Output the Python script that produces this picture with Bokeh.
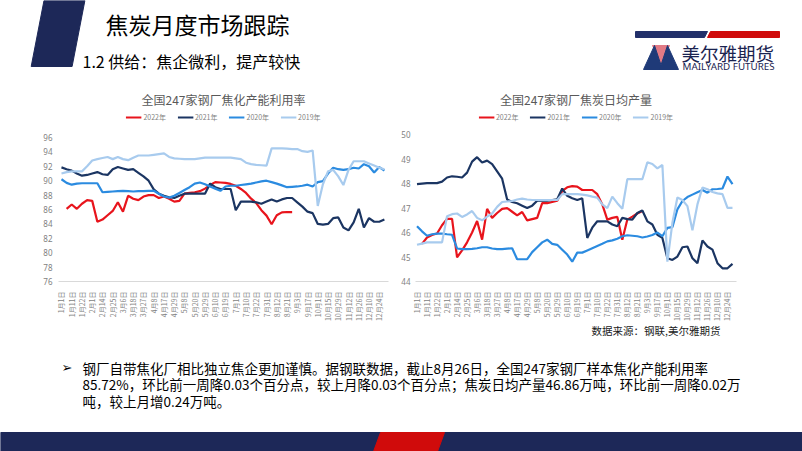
import math
from bokeh.plotting import figure
from bokeh.models import Range1d, FixedTicker, Legend, LegendItem
from bokeh.layouts import column, row
from bokeh.embed import file_html
from bokeh.resources import INLINE
from bokeh.core.properties import value

NAN = float("nan")
CJK = "Noto Sans CJK SC"

# ---------------- data ----------------
x_labels = ["1月1日", "1月11日", "1月22日", "2月1日", "2月14日", "2月25日", "3月6日", "3月18日",
            "3月27日", "4月8日", "4月17日", "4月29日", "5月8日", "5月20日", "5月29日", "6月10日",
            "6月19日", "7月1日", "7月10日", "7月22日", "7月31日", "8月12日", "8月21日", "9月3日",
            "9月17日", "10月1日", "10月15日", "10月29日", "11月12日", "11月26日", "12月10日", "12月24日"]
years = ["2022年", "2021年", "2020年", "2019年"]

# 焦化产能利用率 (%)
util_2022 = [NAN, 86.1, 86.7, 86.1, 86.8, 87.3, 87.2, 84.3, 84.6, 85.2,
             85.8, 87.0, 85.7, 87.9, 87.5, 87.3, 87.8, 88.0, 88.0, 87.6,
             87.8, 87.5, 87.1, 87.2, 88.2, 88.3, 88.4, 88.55, 88.9, 89.4,
             89.8, 89.75, 89.7, 89.55, 89.3, 88.85, 88.3, 87.5, 86.9, 85.9,
             85.15, 83.95, 85.2, 85.6, 85.65, 85.65]
util_2021 = [91.85, 91.6, 91.4, 91.0, 90.7, 90.8, 91.0, 91.2, 90.9, 90.8,
             91.6, 91.9, 91.7, 91.5, 91.6, 91.1, 90.6, 90.0, 88.8, 88.2,
             87.9, 87.7, 87.6, 87.9, 88.2, 88.2, 88.2, 88.2, 88.2, 89.6,
             89.1, 88.85, 88.85, 88.85, 85.9, 87.1, 87.1, 87.1, 87.0, 86.8,
             87.1, 87.4, 87.1, 87.4, 87.6, 87.6, 87.0, 86.4, 85.7, 85.5,
             84.0, 83.9, 84.0, 84.8, 84.9, 83.5, 83.1, 84.2, 86.1, 83.5,
             84.8, 84.3, 84.3, 84.6]
util_2020 = [90.2, 89.7, 89.45, 89.6, 89.65, 89.65, 89.65, 89.65, 88.4, 88.45,
             88.5, 88.55, 88.6, 88.55, 88.5, 88.55, 88.55, 88.6, 88.6, 88.2,
             87.8, 87.65, 87.9, 88.3, 88.7, 89.1, 89.6, 89.75, 89.5, 89.2,
             88.9, 88.6, 89.2, 89.3, 89.3, 89.4, 89.5, 89.6, 89.75, 89.9,
             90.0, 89.8, 89.6, 89.35, 89.1, 89.15, 89.2, 89.3, 89.45, 89.2,
             89.8, 89.95, 91.0, 91.8, 91.6, 91.5, 91.6, 91.8, 91.7, 92.3,
             92.0, 91.15, 91.9, 91.4]
util_2019 = [91.0, 91.2, 91.3, 91.3, 91.3, 92.0, 92.8, 93.0, 93.15, 93.3,
             93.0, 93.3, 93.0, 92.85, 93.2, 93.5, 93.5, 93.5, 93.6, 93.7,
             93.8, 93.3, 93.1, 93.05, 93.0, 93.0, 93.0, 93.1, 93.2, 93.2,
             93.2, 93.2, 93.2, 93.2, 93.1, 93.0, 92.5, 92.3, 92.2, 92.15,
             92.1, 94.5, 94.5, 94.5, 94.45, 94.4, 94.4, 94.1, 94.0, 94.2,
             86.5, 89.5, 91.3, 91.5, 90.6, 89.4, 91.5, 92.7, 92.7, 92.7,
             92.4, 92.1, 91.8, 91.6]

# 焦炭日均产量 (万吨)
prod_2022 = [NAN, 45.54, 45.8, 45.9, 45.96, 46.3, 46.56, 46.56, 44.99, 45.27,
             45.6, 46.0, 46.47, 45.71, 46.97, 46.6, 46.8, 46.97, 47.0, 46.85,
             46.7, 46.84, 46.5, 46.55, 46.6, 47.2, 47.2, 47.25, 47.3, 47.7,
             47.85, 47.9, 47.88, 47.74, 47.74, 47.74, 47.57, 47.15, 46.53, 46.6,
             46.64, 45.71, 46.53, 46.65, 46.78, 46.88]
prod_2021 = [47.98, 48.0, 48.02, 48.02, 48.02, 48.08, 48.25, 48.3, 48.28, 48.25,
             48.45, 48.9, 49.08, 48.86, 48.94, 48.8, 48.5, 48.2, 47.35, 47.25,
             47.2, 47.1, 47.0, 47.1, 47.3, 47.3, 47.3, 47.33, 47.36, 47.8,
             47.5, 47.4, 47.33, 47.4, 45.78, 46.2, 46.46, 46.46, 46.46, 46.33,
             46.26, 46.6, 46.55, 46.53, 46.8, 46.9, 46.46, 46.33, 45.91, 45.78,
             44.95, 44.88, 45.02, 45.4, 45.43, 44.95, 44.75, 45.68, 45.43, 45.3,
             44.75, 44.54, 44.54, 44.72]
prod_2020 = [46.26, 46.05, 45.87, 45.93, 45.96, 45.96, 45.93, 45.91, 45.35, 45.32,
             45.32, 45.33, 45.36, 45.4, 45.4, 45.35, 45.32, 45.32, 45.34, 45.36,
             44.91, 44.91, 44.91, 45.2, 45.4, 45.6, 45.71, 45.54, 45.5, 45.3,
             45.1, 44.81, 45.18, 45.18, 45.27, 45.36, 45.45, 45.54, 45.64, 45.68,
             45.75, 45.85, 45.89, 45.87, 45.85, 45.8, 45.84, 45.9, 46.0, 45.85,
             46.19, 46.22, 46.95, 47.29, 47.45, 47.55, 47.65, 47.74, 47.63, 47.77,
             47.78, 47.8, 48.29, 47.98]
prod_2019 = [45.5, 45.55, 45.6, 45.6, 45.6, 45.6, 46.67, 46.75, 46.78, 46.64,
             46.74, 46.88, 46.6, 46.5, 46.65, 46.78, 47.05, 47.25, 47.27, 47.29,
             47.35, 47.39, 47.35, 47.33, 47.33, 47.33, 47.33, 47.33, 47.33, 47.57,
             47.57, 47.57, 47.57, 47.55, 47.52, 47.47, 47.43, 47.15, 47.0, 47.47,
             47.2, 46.97, 48.18, 48.18, 48.18, 48.18, 48.87, 48.8, 48.62, 48.76,
             44.81, 46.4, 47.43, 47.33, 47.08, 46.09, 47.15, 47.84, 47.77, 47.66,
             47.6, 47.57, 47.01, 47.01]

util_ticks = [76, 78, 80, 82, 84, 86, 88, 90, 92, 94, 96]
prod_ticks = [44, 45, 46, 47, 48, 49, 50]

slide_title = "焦炭月度市场跟踪"
subtitle = "1.2 供给：焦企微利，提产较快"
chart1_title = "全国247家钢厂焦化产能利用率"
chart2_title = "全国247家钢厂焦炭日均产量"
source_note = "数据来源：钢联,美尔雅期货"
body_lines = ["钢厂自带焦化厂相比独立焦企更加谨慎。据钢联数据，截止8月26日，全国247家钢厂样本焦化产能利用率",
              "85.72%，环比前一周降0.03个百分点，较上月降0.03个百分点；焦炭日均产量46.86万吨，环比前一周降0.02万",
              "吨，较上月增0.24万吨。"]

# ---------------- styles ----------------
COLORS = ["#E8141C", "#1B3562", "#2B8BE0", "#A8CBEE"]
NAVY = "#1D2858"
RED = "#D00B0B"
GRAY = "#7F7F7F"


def chart(title, series, yticks, width, height, borders, xr, yr, ystandoff):
    p = figure(width=width, height=height, output_backend="svg", toolbar_location=None,
               x_range=Range1d(*xr), y_range=Range1d(*yr),
               min_border_left=borders[0], min_border_right=borders[1],
               min_border_top=borders[2], min_border_bottom=borders[3],
               background_fill_color="white", border_fill_color="white")
    p.outline_line_color = None
    p.title.text = title
    p.title.align = "center"
    p.title.text_font = CJK
    p.title.text_font_size = "12px"
    p.title.text_font_style = "normal"
    p.title.text_color = "#595959"
    p.title.standoff = 2
    p.title.offset = -5

    items = []
    for name, vals, col in zip(years, series, COLORS):
        r = p.line(x=list(range(len(vals))), y=vals, line_color=col, line_width=2.2)
        items.append(LegendItem(label=name, renderers=[r]))
    legend = Legend(items=items, orientation="horizontal", location="top_center")
    legend.label_text_font = CJK
    legend.label_text_font_size = "7px"
    legend.label_text_color = GRAY
    legend.glyph_width = 16
    legend.glyph_height = 8
    legend.label_height = 8
    legend.label_standoff = 2
    legend.spacing = 11
    legend.padding = 2
    legend.margin = 4
    legend.border_line_color = None
    legend.background_fill_alpha = 0
    p.add_layout(legend)

    p.xgrid.visible = False
    p.ygrid.visible = False

    xa = p.xaxis[0]
    xa.ticker = FixedTicker(ticks=list(range(0, 2 * len(x_labels), 2)))
    xa.major_label_overrides = {2 * i: lab for i, lab in enumerate(x_labels)}
    xa.major_label_orientation = math.pi / 2
    xa.major_label_text_font = CJK
    xa.major_label_text_font_size = "7px"
    xa.major_label_text_color = GRAY
    xa.major_label_standoff = 4
    xa.axis_line_color = "#D9D9D9"
    xa.major_tick_line_color = None
    xa.minor_tick_line_color = None

    ya = p.yaxis[0]
    ya.ticker = FixedTicker(ticks=yticks)
    ya.axis_line_color = None
    ya.major_tick_line_color = None
    ya.minor_tick_line_color = None
    ya.major_tick_out = 0
    ya.major_label_text_font = "Noto Sans"
    ya.major_label_text_font_size = "8px"
    ya.major_label_text_color = GRAY
    ya.major_label_standoff = ystandoff
    return p


H_MID = 239
left = chart(chart1_title, [util_2022, util_2021, util_2020, util_2019], util_ticks,
             398, H_MID, (58, 10, 23, 43), (-0.58, 63.8), (76, 100.03), 6)
right = chart(chart2_title, [prod_2022, prod_2021, prod_2020, prod_2019], prod_ticks,
              404, H_MID, (17, 66, 23, 43), (-0.3, 63.8), (44, 51.07), 5)

# ---------------- header ----------------
hdr = figure(width=802, height=85, x_range=Range1d(0, 802), y_range=Range1d(85, 0),
             output_backend="svg", toolbar_location=None, min_border=0,
             x_axis_type=None, y_axis_type=None)
hdr.outline_line_color = None
hdr.patch([43.5, 84.4, 71.6, 30.7], [0, 0, 66, 66], color=NAVY)
hdr.text(x=[105], y=[23], text=[slide_title], text_font=value(CJK), text_font_size=value("23px"),
         text_baseline="middle", text_align="left", text_color="#000000")
hdr.text(x=[82], y=[60], text=[subtitle], text_font=value(CJK), text_font_size=value("16px"),
         text_baseline="middle", text_align="left", text_color="#000000")
# logo
hdr.patch([635, 707, 704, 635], [31, 31, 37, 37], color="#22306A")
hdr.patch([710, 779, 779, 707], [31, 31, 37, 37], color=RED)
hdr.patch([652, 669, 660.5], [45, 45, 64], color="#E27A85")
hdr.patch([643, 654, 662], [69, 45, 69], color="#1F3A78")
hdr.patch([659, 667, 678], [69, 45, 69], color="#1F3A78")
hdr.text(x=[681], y=[52.5], text=["美尔雅期货"], text_font=value(CJK), text_font_size=value("18.5px"),
         text_baseline="middle", text_align="left", text_color="#1A2350")
hdr.text(x=[682], y=[66], text=["MAILYARD FUTURES"], text_font=value("Noto Sans"),
         text_font_size=value("9.8px"), text_baseline="middle", text_align="left", text_color="#1A2350")

# ---------------- bottom ----------------
BOT_TOP = 85 + H_MID
bot = figure(width=802, height=451 - BOT_TOP, x_range=Range1d(0, 802), y_range=Range1d(451, BOT_TOP),
             output_backend="svg", toolbar_location=None, min_border=0,
             x_axis_type=None, y_axis_type=None)
bot.outline_line_color = None
bot.text(x=[720], y=[330], text=[source_note], text_font=value(CJK), text_font_size=value("10.5px"),
         text_baseline="middle", text_align="right", text_color="#1A1A1A")
bot.text(x=[61], y=[367], text=["➢"], text_font=value("DejaVu Sans"), text_font_size=value("13px"),
         text_baseline="middle", text_align="left", text_color="#000000")
bot.text(x=[82, 82, 82], y=[367, 383.5, 400], text=body_lines, text_font=value(CJK),
         text_font_size=value("13.5px"), text_baseline="middle", text_align="left", text_color="#000000")
bot.quad(left=[0], right=[802], top=[432], bottom=[451], color=NAVY)
bot.patch([380, 444, 437, 373], [432, 432, 451, 451], color=RED)

layout = column(hdr, row(left, right), bot)
open("out.html", "w").write(file_html(layout, INLINE))
